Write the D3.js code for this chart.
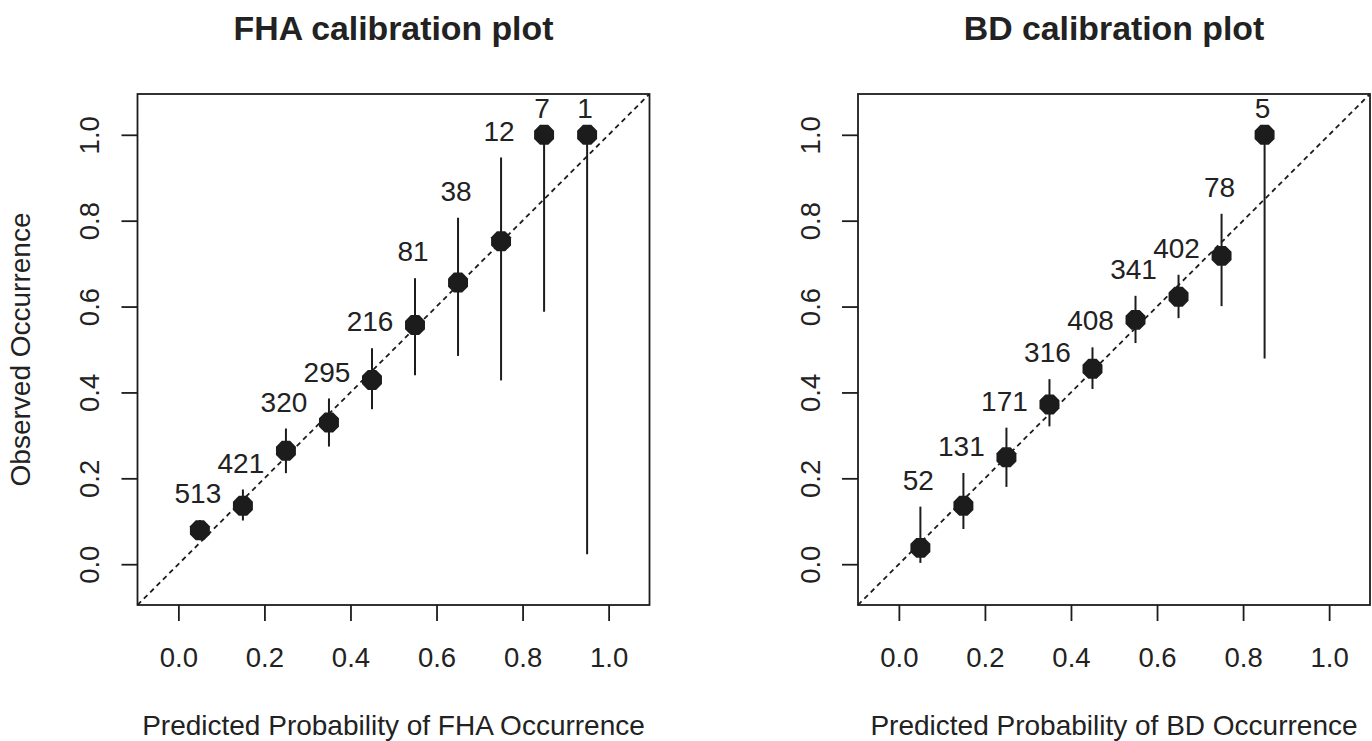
<!DOCTYPE html>
<html>
<head>
<meta charset="utf-8">
<script src="https://cdn.jsdelivr.net/npm/d3@7"></script>
<style>
  html, body { margin: 0; padding: 0; background: #fff; }
  svg { display: block; }
  text { font-family: "Liberation Sans", Arial, Helvetica, sans-serif; fill: #222; }
</style>
</head>
<body>
<svg id="chart" width="1372" height="741"></svg>
<script>
// ---- data ----
const tickValues = [0.0, 0.2, 0.4, 0.6, 0.8, 1.0];

const fhaTitle = "FHA calibration plot";
const fhaXLabel = "Predicted Probability of FHA Occurrence";
const fhaPredicted = [0.05, 0.15, 0.25, 0.35, 0.45, 0.55, 0.65, 0.75, 0.85, 0.95];
const fhaObserved  = [0.079, 0.136, 0.264, 0.330, 0.429, 0.557, 0.656, 0.752, 1.0, 1.0];
const fhaLower     = [0.058, 0.102, 0.212, 0.274, 0.361, 0.440, 0.485, 0.428, 0.588, 0.023];
const fhaUpper     = [0.103, 0.174, 0.316, 0.386, 0.503, 0.666, 0.807, 0.947, 1.0, 1.0];
const fhaCounts    = ["513", "421", "320", "295", "216", "81", "38", "12", "7", "1"];

const bdTitle = "BD calibration plot";
const bdXLabel = "Predicted Probability of BD Occurrence";
const bdPredicted = [0.05, 0.15, 0.25, 0.35, 0.45, 0.55, 0.65, 0.75, 0.85];
const bdObserved  = [0.038, 0.136, 0.249, 0.372, 0.455, 0.569, 0.623, 0.718, 1.0];
const bdLower     = [0.003, 0.082, 0.180, 0.321, 0.408, 0.515, 0.573, 0.601, 0.479];
const bdUpper     = [0.134, 0.2125, 0.318, 0.431, 0.505, 0.625, 0.674, 0.816, 1.0];
const bdCounts    = ["52", "131", "171", "316", "408", "341", "402", "78", "5"];

const yLabel = "Observed Occurrence";
const axisDomain = [-0.095, 1.095];

// ---- layout ----
const svg = d3.select("#chart");
const TOP = 94, BOTTOM = 605;
const FS = 28;           // base font size
const FS_TICK = 27.5;
const INK = "#1c1c1c";

const octagon = {
  draw(ctx, size) {
    const r = Math.sqrt(size / (2 * Math.SQRT2));
    for (let k = 0; k < 8; k++) {
      const a = Math.PI / 8 + k * Math.PI / 4;
      const px = r * Math.cos(a), py = r * Math.sin(a);
      if (k === 0) ctx.moveTo(px, py); else ctx.lineTo(px, py);
    }
    ctx.closePath();
  }
};

function panel(id, left, right, title, xLabel, showYLabel, px, obs, lo, hi, counts) {
  const x = d3.scaleLinear().domain(axisDomain).range([left, right]);
  const y = d3.scaleLinear().domain(axisDomain).range([BOTTOM, TOP]);
  const g = svg.append("g");

  const clipId = "clip-" + id;
  svg.append("clipPath").attr("id", clipId)
    .append("rect").attr("x", left).attr("y", TOP)
    .attr("width", right - left).attr("height", BOTTOM - TOP);

  const plot = g.append("g").attr("clip-path", `url(#${clipId})`);

  // diagonal reference line
  plot.append("line")
    .attr("x1", x(axisDomain[0])).attr("y1", y(axisDomain[0]))
    .attr("x2", x(axisDomain[1])).attr("y2", y(axisDomain[1]))
    .attr("stroke", INK).attr("stroke-width", 1.8)
    .attr("stroke-dasharray", "5,4");

  const idx = d3.range(px.length);

  // error bars
  plot.selectAll("line.err").data(idx).join("line").attr("class", "err")
    .attr("x1", i => x(px[i])).attr("x2", i => x(px[i]))
    .attr("y1", i => y(lo[i])).attr("y2", i => y(hi[i]))
    .attr("stroke", INK).attr("stroke-width", 2);

  // points
  const sym = d3.symbol().type(octagon).size(2 * Math.SQRT2 * 10.8 * 10.8);
  plot.selectAll("path.pt").data(idx).join("path").attr("class", "pt")
    .attr("transform", i => `translate(${x(px[i])},${y(obs[i])})`)
    .attr("d", sym).attr("fill", INK);

  // count labels
  plot.selectAll("text.cnt").data(idx).join("text").attr("class", "cnt")
    .attr("x", i => x(px[i]) - 2).attr("y", i => y(hi[i]) - 27)
    .attr("dy", "0.36em").attr("text-anchor", "middle")
    .attr("font-size", FS).text(i => counts[i]);

  // box
  g.append("rect").attr("x", left).attr("y", TOP)
    .attr("width", right - left).attr("height", BOTTOM - TOP)
    .attr("fill", "none").attr("stroke", INK).attr("stroke-width", 1.8);

  // x axis
  const xa = g.append("g").attr("transform", `translate(0,${BOTTOM})`)
    .call(d3.axisBottom(x).tickValues(tickValues).tickSize(16).tickPadding(26)
      .tickFormat(d3.format(".1f")));
  xa.select(".domain").remove();
  xa.selectAll(".tick line").attr("stroke", INK).attr("stroke-width", 1.8);
  xa.selectAll(".tick text").attr("font-size", FS_TICK).attr("font-family", null)
    .attr("fill", "#222");

  // y axis
  const ya = g.append("g").attr("transform", `translate(${left},0)`)
    .call(d3.axisLeft(y).tickValues(tickValues).tickSize(16)
      .tickFormat(d3.format(".1f")));
  ya.select(".domain").remove();
  ya.selectAll(".tick line").attr("stroke", INK).attr("stroke-width", 1.8);
  ya.selectAll(".tick text").attr("font-size", FS_TICK).attr("font-family", null)
    .attr("fill", "#222")
    .attr("x", null).attr("dy", "0.36em").attr("text-anchor", "middle")
    .attr("transform", "translate(-48,0) rotate(-90)");

  // titles
  g.append("text").attr("x", (left + right) / 2).attr("y", 40)
    .attr("text-anchor", "middle").attr("font-size", 33.8).attr("font-weight", "bold")
    .text(title);
  g.append("text").attr("x", (left + right) / 2).attr("y", 735)
    .attr("text-anchor", "middle").attr("font-size", FS).text(xLabel);
  if (showYLabel) {
    g.append("text")
      .attr("transform", `translate(30,${(TOP + BOTTOM) / 2}) rotate(-90)`)
      .attr("text-anchor", "middle").attr("font-size", FS).text(yLabel);
  }
}

panel("fha", 137.5, 649.5, fhaTitle, fhaXLabel, true,
  fhaPredicted, fhaObserved, fhaLower, fhaUpper, fhaCounts);
panel("bd", 858, 1370, bdTitle, bdXLabel, false,
  bdPredicted, bdObserved, bdLower, bdUpper, bdCounts);
</script>
</body>
</html>
